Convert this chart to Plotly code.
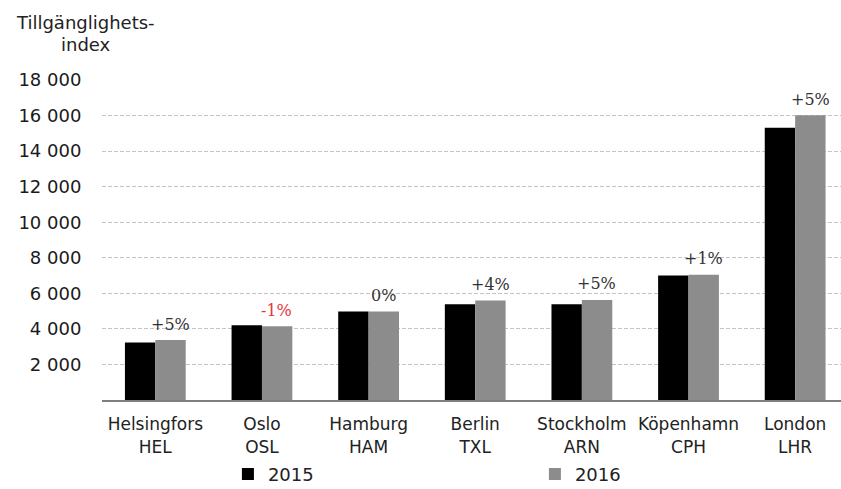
import plotly.graph_objects as go

# ---------------------------------------------------------------------------
# Data
# ---------------------------------------------------------------------------
CITIES = ["Helsingfors<br>HEL", "Oslo<br>OSL", "Hamburg<br>HAM", "Berlin<br>TXL",
          "Stockholm<br>ARN", "Köpenhamn<br>CPH", "London<br>LHR"]
VALUES_2015 = [3230, 4200, 4980, 5380, 5390, 7000, 15320]
VALUES_2016 = [3370, 4150, 4980, 5590, 5630, 7040, 16020]
CHANGE_LABELS = ["+5%", "-1%", "0%", "+4%", "+5%", "+1%", "+5%"]
Y_TICKS = [2000, 4000, 6000, 8000, 10000, 12000, 14000, 16000, 18000]

SANS = "DejaVu Sans, Verdana, sans-serif"
SERIF = "DejaVu Serif, Georgia, serif"

fig = go.Figure()
fig.add_trace(go.Bar(
    x=CITIES, y=VALUES_2015, name="2015",
    marker=dict(color="#000000", line=dict(width=0)),
))
fig.add_trace(go.Bar(
    x=CITIES, y=VALUES_2016, name="2016",
    marker=dict(color="#8c8c8c", line=dict(width=0)),
))

# change labels, centred over the 2016 bar
for city, val, lab in zip(CITIES, VALUES_2016, CHANGE_LABELS):
    color = "#e8343c" if lab.startswith("-") else "#333333"
    fig.add_annotation(
        x=city, y=val, text=lab, showarrow=False,
        xshift=15, yshift=16, yanchor="middle", xanchor="center",
        font=dict(family=SERIF, size=16, color=color),
    )

# y-axis title sits above the tick labels
fig.add_annotation(text="Tillgänglighets-", xref="paper", yref="paper",
                   x=-0.022, y=1.18, xanchor="center", yanchor="middle",
                   showarrow=False, font=dict(family=SANS, size=18, color="#222"))
fig.add_annotation(text="index", xref="paper", yref="paper",
                   x=-0.022, y=1.11, xanchor="center", yanchor="middle",
                   showarrow=False, font=dict(family=SANS, size=18, color="#222"))

fig.update_layout(
    width=841, height=489,
    barmode="group", bargap=0.43, bargroupgap=0,
    separators=", ",
    plot_bgcolor="white", paper_bgcolor="white",
    margin=dict(l=102, r=0, t=80, b=89),
    font=dict(family=SANS, color="#222"),
    xaxis=dict(
        range=[-0.5, 6.43], showgrid=False,
        showline=True, linecolor="#7f7f7f", linewidth=2,
        tickfont=dict(family=SANS, size=17, color="#222"),
        ticks="outside", ticklen=8, tickcolor="rgba(0,0,0,0)",
    ),
    yaxis=dict(
        range=[0, 18000], tickvals=Y_TICKS, tickformat=",d",
        showgrid=True, gridcolor="#c4c4c4", griddash="4px,2px", gridwidth=1,
        zeroline=False, showline=False,
        ticks="outside", ticklen=16, tickcolor="rgba(0,0,0,0)",
        tickfont=dict(family=SANS, size=18, color="#1a1a1a"),
    ),
    legend=dict(
        orientation="h", xref="container", yref="container",
        x=0.271, y=0.03, xanchor="left", yanchor="middle",
        entrywidth=262, font=dict(family=SANS, size=18, color="#222"),
        itemwidth=30,
    ),
    showlegend=True,
)

fig.write_html("out.html", config={"displayModeBar": False},
               post_script="document.body.style.margin='0';")
